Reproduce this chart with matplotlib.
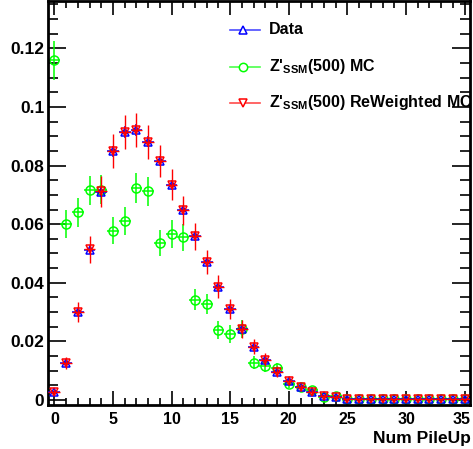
import matplotlib
matplotlib.use("Agg")
import matplotlib.pyplot as plt
import matplotlib.transforms as mtransforms
from matplotlib.lines import Line2D
from matplotlib.ticker import MultipleLocator, FuncFormatter

plt.rcParams["font.family"] = ["Liberation Sans", "DejaVu Sans"]
plt.rcParams["font.weight"] = "bold"
plt.rcParams["mathtext.fontset"] = "custom"
plt.rcParams["mathtext.bf"] = "Liberation Sans:bold"
plt.rcParams["mathtext.rm"] = "Liberation Sans:bold"

# number of pile-up interactions (bin centres)
pileup = list(range(36))

# Data (normalised)
data = [0.0027, 0.0125, 0.0300, 0.0513, 0.0710, 0.0849, 0.0915, 0.0921, 0.0881, 0.0815,
        0.0735, 0.0647, 0.0558, 0.0471, 0.0387, 0.0310, 0.0242, 0.0182, 0.0137, 0.0097,
        0.0066, 0.0043, 0.0028, 0.0015, 0.0011, 0.0003, 0.0003, 0.0003, 0.0003, 0.0002,
        0.0002, 0.0002, 0.0002, 0.0002, 0.0002, 0.0002]
data_err = [0.0004, 0.0008, 0.0012, 0.0015, 0.0018, 0.0019, 0.0020, 0.0020, 0.0019, 0.0018,
            0.0017, 0.0016, 0.0015, 0.0014, 0.0012, 0.0011, 0.0010, 0.0008, 0.0007, 0.0006,
            0.0005, 0.0004, 0.0003, 0.0002, 0.0002, 0.0001, 0.0001, 0.0001, 0.0001, 0.0001,
            0.0001, 0.0001, 0.0001, 0.0001, 0.0001, 0.0001]

# Z'_SSM(500) MC
mc = [0.1159, 0.0602, 0.0640, 0.0715, 0.0718, 0.0578, 0.0610, 0.0724, 0.0712, 0.0536,
      0.0566, 0.0555, 0.0342, 0.0327, 0.0239, 0.0226, 0.0242, 0.0128, 0.0117, 0.0108,
      0.0055, 0.0043, 0.0034, 0.0011, 0.0015, 0.0002, 0.0003, 0.0005, 0.0005, 0.0002,
      0.0002, 0.0002, 0.0002, 0.0002, 0.0002, 0.0002]
mc_err = [0.0066, 0.0048, 0.0050, 0.0050, 0.0050, 0.0046, 0.0048, 0.0050, 0.0050, 0.0045,
          0.0047, 0.0046, 0.0036, 0.0035, 0.0030, 0.0030, 0.0030, 0.0022, 0.0020, 0.0020,
          0.0014, 0.0012, 0.0010, 0.0006, 0.0007, 0.0003, 0.0003, 0.0003, 0.0003, 0.0003,
          0.0003, 0.0003, 0.0003, 0.0003, 0.0003, 0.0003]

# Z'_SSM(500) reweighted MC
rw = [0.0028, 0.0126, 0.0300, 0.0514, 0.0712, 0.0850, 0.0916, 0.0922, 0.0881, 0.0815,
      0.0735, 0.0647, 0.0558, 0.0471, 0.0387, 0.0310, 0.0242, 0.0182, 0.0137, 0.0097,
      0.0066, 0.0043, 0.0028, 0.0015, 0.0011, 0.0003, 0.0003, 0.0003, 0.0003, 0.0002,
      0.0002, 0.0002, 0.0002, 0.0002, 0.0002, 0.0002]
rw_err = [0.0010, 0.0020, 0.0034, 0.0045, 0.0053, 0.0057, 0.0058, 0.0058, 0.0057, 0.0055,
          0.0052, 0.0050, 0.0046, 0.0042, 0.0038, 0.0034, 0.0030, 0.0026, 0.0022, 0.0018,
          0.0015, 0.0012, 0.0010, 0.0007, 0.0006, 0.0003, 0.0003, 0.0003, 0.0003, 0.0003,
          0.0003, 0.0003, 0.0003, 0.0003, 0.0003, 0.0003]

labels = ["Data", r"Z'$_{\mathbf{SSM}}$(500) MC", r"Z'$_{\mathbf{SSM}}$(500) ReWeighted MC"]

fig = plt.figure(figsize=(4.73, 4.49), dpi=100)
ax = fig.add_axes([0.1025, 0.098, 0.8922, 0.8987])

ax.errorbar(pileup, data, yerr=data_err, xerr=0.5, fmt="^", color="#0000ff",
            mfc="none", ms=6, mew=1.1, elinewidth=1.1, capsize=0, zorder=3)
ax.errorbar(pileup, mc, yerr=mc_err, xerr=0.5, fmt="o", color="#00ff00",
            mfc="none", ms=6.5, mew=1.1, elinewidth=1.1, capsize=0, zorder=2)
ax.errorbar(pileup, rw, yerr=rw_err, xerr=0.5, fmt="v", color="#ff0000",
            mfc="none", ms=6, mew=1.1, elinewidth=1.0, capsize=0, zorder=4)

ax.set_xlim(-0.5, 35.5)
ax.set_ylim(-0.0017, 0.136)

ax.xaxis.set_major_locator(MultipleLocator(5))
ax.xaxis.set_minor_locator(MultipleLocator(1))
ax.yaxis.set_major_locator(MultipleLocator(0.02))
ax.yaxis.set_minor_locator(MultipleLocator(0.005))
ax.yaxis.set_major_formatter(FuncFormatter(lambda v, p: "%g" % round(v, 3)))

ax.tick_params(which="both", direction="in", top=True, right=True, width=1.2)
ax.tick_params(which="major", length=10, labelsize=12.5)
ax.tick_params(axis="x", which="major", pad=5, labelsize=11.5)
ax.tick_params(axis="y", which="major", pad=3, length=13)
ax.tick_params(axis="x", which="minor", length=5)
ax.tick_params(axis="y", which="minor", length=7)
for s in ax.spines.values():
    s.set_linewidth(2)

# keep the last x label inside the figure
fig.canvas.draw()
last = [t for t in ax.get_xticklabels() if t.get_text() == "35"]
for t in last:
    t.set_transform(t.get_transform() + mtransforms.ScaledTranslation(-3 / 100, 0, fig.dpi_scale_trans))

ax.set_xlabel("Num PileUp", loc="right", fontsize=12.5, fontweight="bold", labelpad=3)

# legend drawn by hand in figure pixels
W, H = 473.0, 449.0
colors = ["#0000ff", "#00ff00", "#ff0000"]
mks = ["^", "o", "v"]
rows = [30, 67, 103]
for lab, c, m, yy in zip(labels, colors, mks, rows):
    fig.add_artist(Line2D([230 / W, 260 / W], [1 - yy / H, 1 - yy / H], color=c,
                          lw=1.2, alpha=0.7))
    fig.add_artist(Line2D([243 / W], [1 - yy / H], marker=m, color=c, mfc="white",
                          ms=6, mew=1.1))
    fig.text(269 / W, 1 - yy / H, lab, fontsize=11.5, fontweight="bold",
             va="center", ha="left")

fig.savefig("out.png", dpi=100)
